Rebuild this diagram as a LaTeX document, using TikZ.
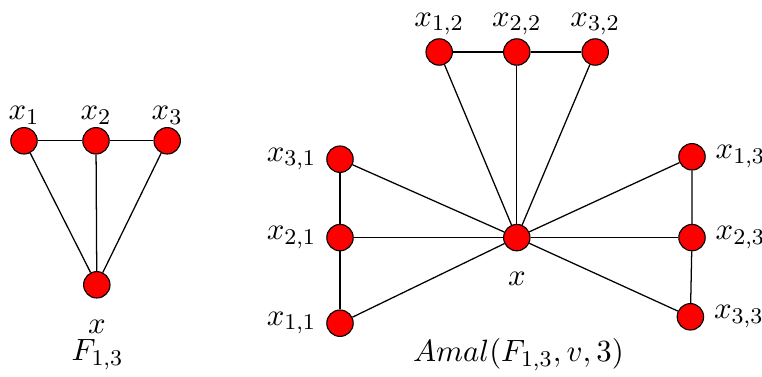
\documentclass[tikz,border=0pt]{standalone}
\usepackage{amsmath, amssymb}
\usetikzlibrary{positioning, calc}

\begin{document}
\begin{tikzpicture}[
  font=\fontsize{11}{13}\selectfont,
  vtx/.style={circle, draw, fill=red, minimum size=0.33cm, inner sep=0pt},
  edge/.style={draw, line width=0.45pt},
  up/.style={label={[label distance=-2.5pt]above:{#1}}}
  ]
  \useasboundingbox (0,0) rectangle (9.525,4.7);
  % F_{1,3}
  \node[vtx, up={$x_{1}$}] (a1) at (0.30, 2.94) {};
  \node[vtx, up={$x_{2}$}] (a2) at (1.20, 2.94) {};
  \node[vtx, up={$x_{3}$}] (a3) at (2.09, 2.94) {};
  \node[vtx, label={[yshift=-4pt]below:{$x$}}] (a0) at (1.21, 1.14) {};
  \draw[edge] (a1) -- (a2) -- (a3);
  \draw[edge] (a1) -- (a0); \draw[edge] (a2) -- (a0); \draw[edge] (a3) -- (a0);
  \node (capa) at (1.22, 0.27) {$F_{1,3}$};
  % Amal
  \node[vtx, label={[yshift=-4pt]below:{$x$}}] (c) at (6.46, 1.73) {};
  \node[vtx, up={$x_{1,2}$}] (u12) at (5.49, 4.05) {};
  \node[vtx, up={$x_{2,2}$}] (u22) at (6.46, 4.05) {};
  \node[vtx, up={$x_{3,2}$}] (u32) at (7.44, 4.05) {};
  \node[vtx, label=left:{$x_{3,1}$}] (u31) at (4.25, 2.71) {};
  \node[vtx, label=left:{$x_{2,1}$}] (u21) at (4.25, 1.73) {};
  \node[vtx, label=left:{$x_{1,1}$}] (u11) at (4.25, 0.66) {};
  \node[vtx, label=right:{$x_{1,3}$}] (u13) at (8.65, 2.74) {};
  \node[vtx, label=right:{$x_{2,3}$}] (u23) at (8.65, 1.73) {};
  \node[vtx, label=right:{$x_{3,3}$}] (u33) at (8.63, 0.74) {};
  \draw[edge] (u12) -- (u22) -- (u32);
  \draw[edge] (u31) -- (u21) -- (u11);
  \draw[edge] (u13) -- (u23) -- (u33);
  \foreach \v in {u12,u22,u32,u31,u21,u11,u13,u23,u33}
    \draw[edge] (c) -- (\v);
  \node (capb) at (6.48, 0.27) {$Amal(F_{1,3},v,3)$};
\end{tikzpicture}
\end{document}
